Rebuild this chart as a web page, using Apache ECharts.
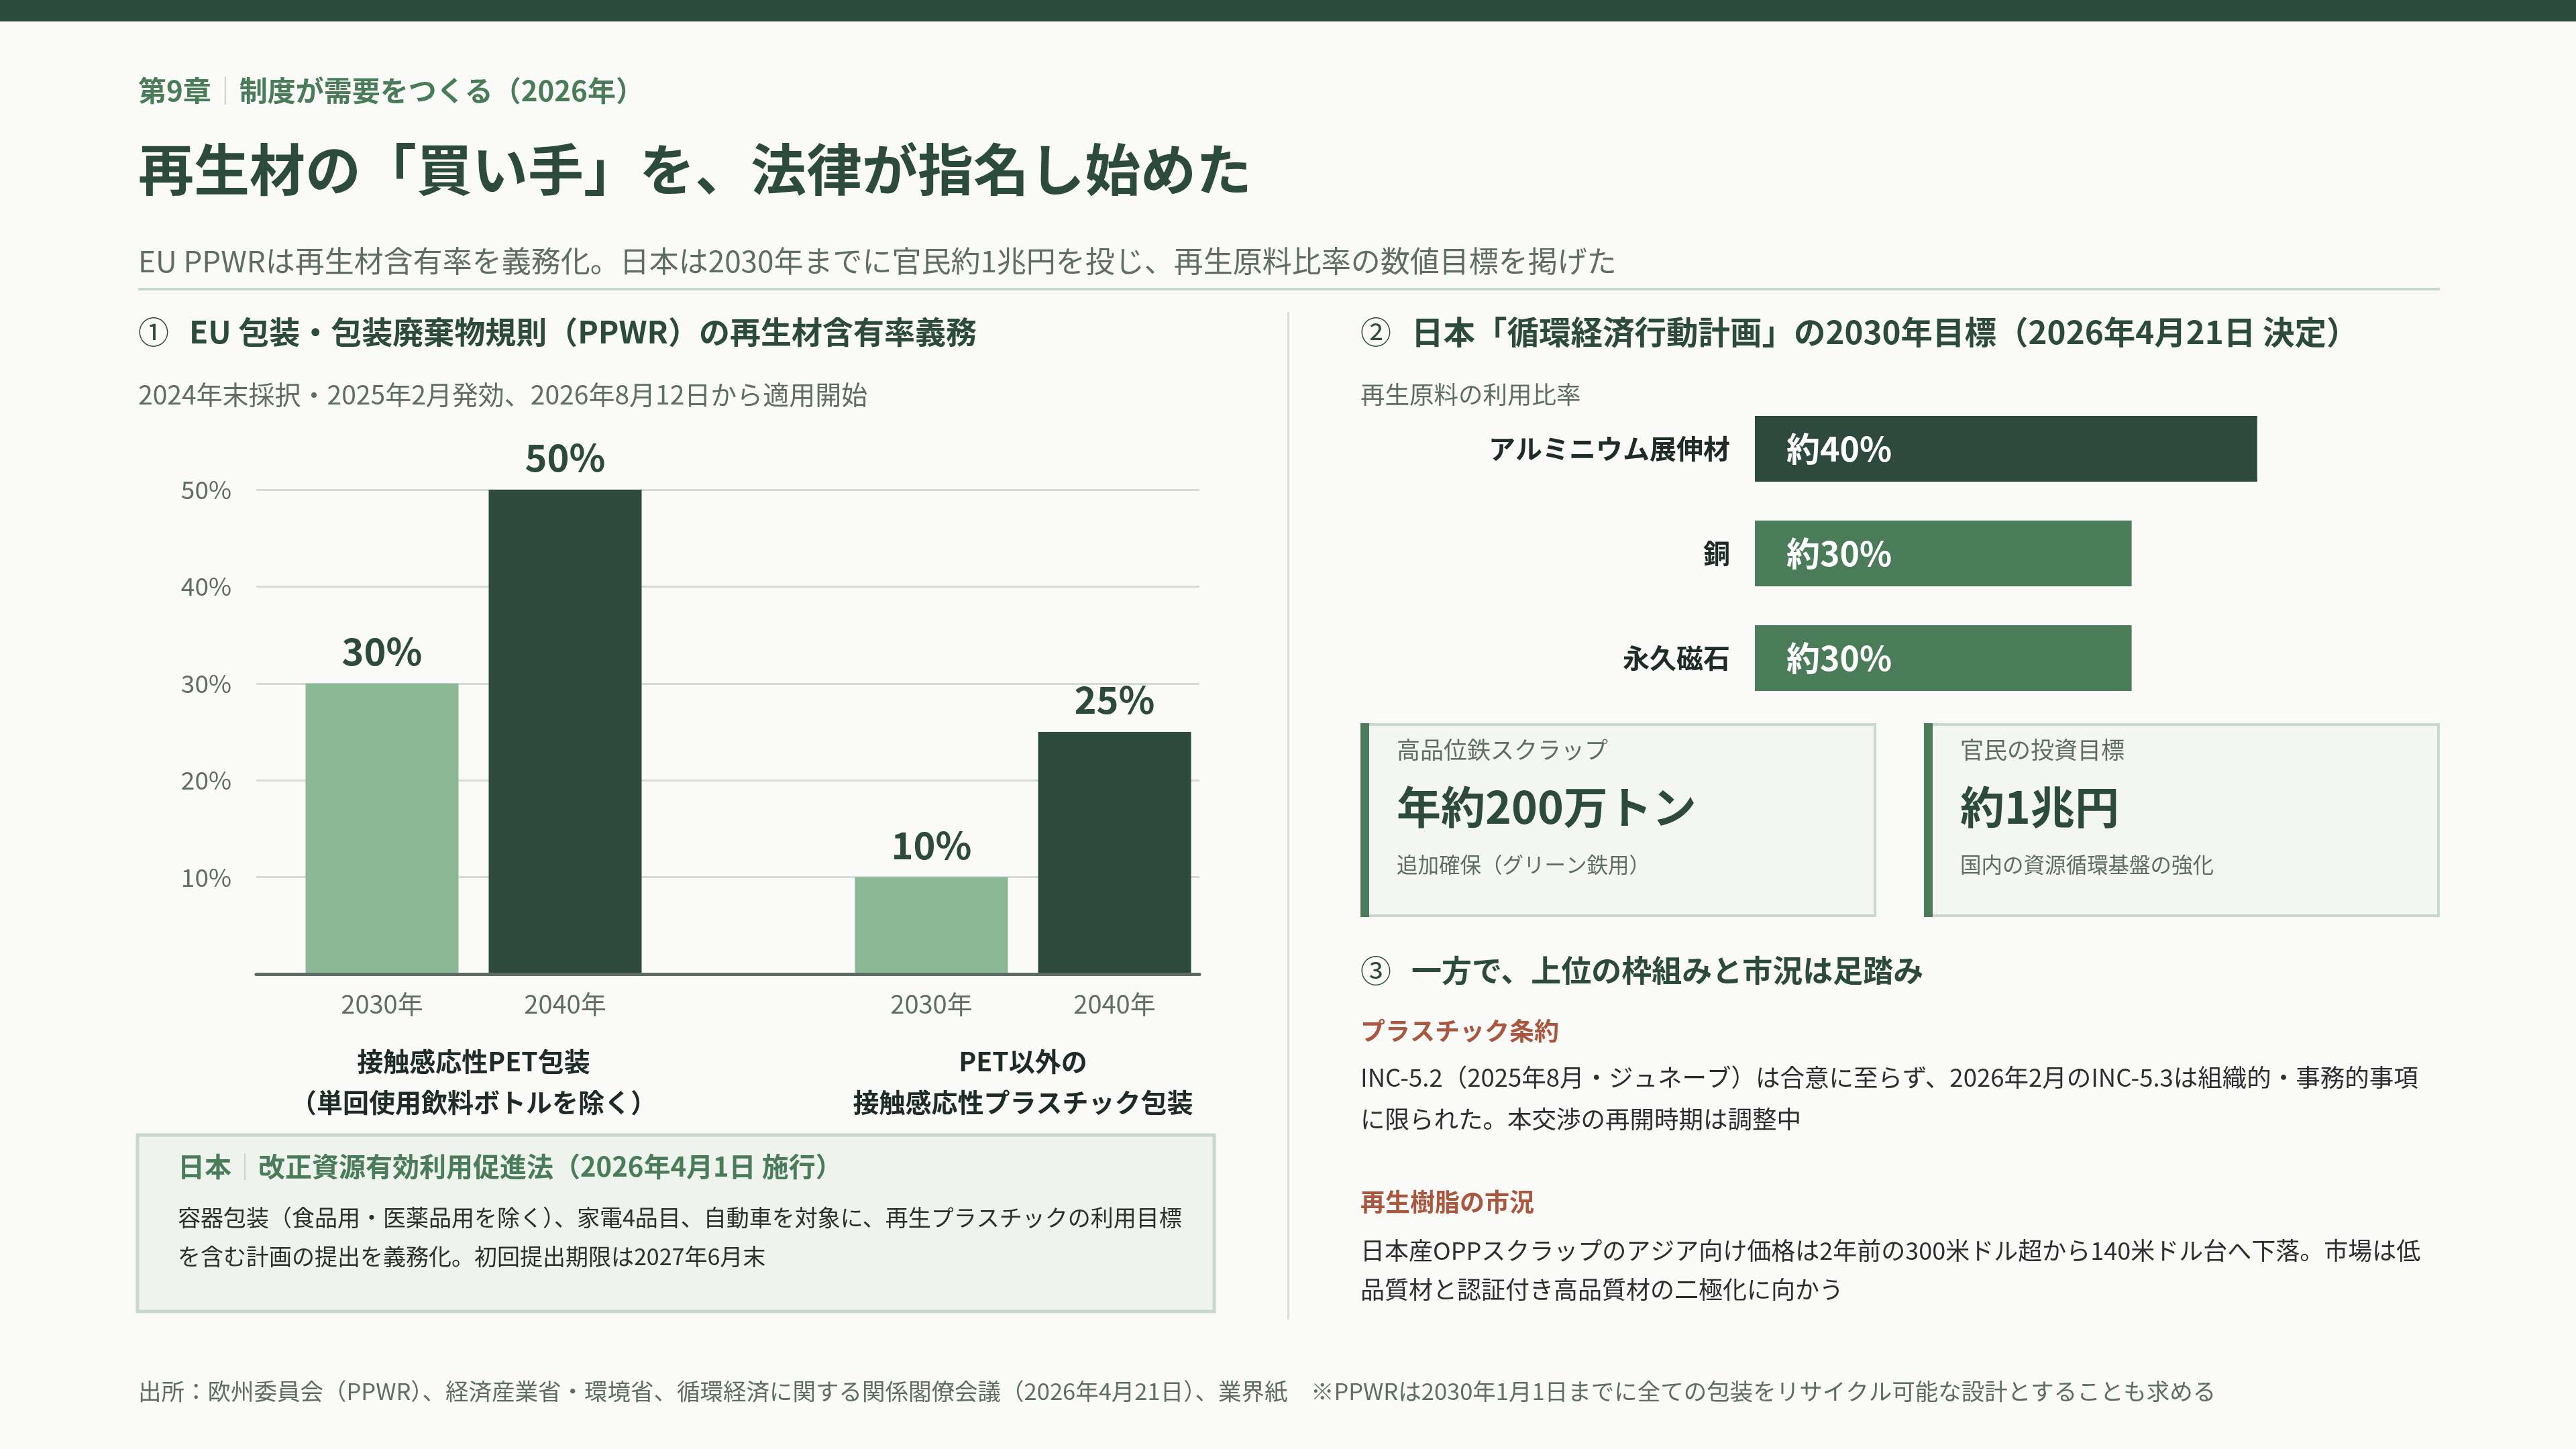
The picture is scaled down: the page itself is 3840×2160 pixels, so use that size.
<!DOCTYPE html>
<html><head><meta charset="utf-8">
<script src="https://cdn.jsdelivr.net/npm/echarts@6.0.0/dist/echarts.min.js"></script>
<style>html,body{margin:0;padding:0;background:#fafaf8;}#c{width:3840px;height:2160px;}</style>
</head><body><div id="c"></div>
<script>
// ---- data ----
const euYears = ['2030年', '2040年'];
const euGroupLine1 = ['接触感応性PET包装', 'PET以外の'];
const euGroupLine2 = ['（単回使用飲料ボトルを除く）', '接触感応性プラスチック包装'];
const eu2030 = [30, 10];
const eu2040 = [50, 25];
const euAxisMin = 0, euAxisMax = 50, euAxisStep = 10;
const jpMaterials = ['アルミニウム展伸材', '銅', '永久磁石'];
const jpTargets = [40, 30, 30];

const FONT = '"Noto Sans CJK JP", "Noto Sans", sans-serif';
const DARK = '#2d4a3e', MID = '#4a7c59', LIGHT = '#8db896', GRAY = '#5f6d66', BODY = '#2e2e2e', RUST = '#a9573f';

// 5-slot category axis: two groups with an empty slot between
const xCats = [euYears[0], euYears[1], '', euYears[0], euYears[1]];
const s2030 = [eu2030[0], '-', '-', eu2030[1], '-'];
const s2040 = ['-', eu2040[0], '-', '-', eu2040[1]];

const chart = echarts.init(document.getElementById('c'));
const labelStyle = {show: true, position: 'top', distance: 20, formatter: p => p.value + '%',
  fontSize: 56, fontWeight: 'bold', color: DARK, fontFamily: FONT};

const option = {
  animation: false,
  backgroundColor: '#fafaf8',
  textStyle: {fontFamily: FONT},
  grid: [
    {left: 382, top: 730, width: 1406, height: 722, outerBoundsMode: 'none'},
    {left: 433, top: 730, width: 1365, height: 722, outerBoundsMode: 'none'},
    {left: 2616, top: 591, width: 936, height: 468, outerBoundsMode: 'none'}
  ],
  xAxis: [
    {gridIndex: 0, type: 'category', data: [''], z: 5,
      axisLine: {show: true, lineStyle: {color: '#5c6b63', width: 5}},
      axisTick: {show: false}, axisLabel: {show: false}, splitLine: {show: false}},
    {gridIndex: 1, type: 'category', data: xCats,
      axisLine: {show: false}, axisTick: {show: false},
      axisLabel: {fontSize: 38, color: GRAY, margin: 26, fontFamily: FONT}},
    {gridIndex: 2, type: 'value', min: 0, max: 50, show: false}
  ],
  yAxis: [
    {gridIndex: 0, type: 'value', min: euAxisMin, max: euAxisMax, interval: euAxisStep,
      axisLine: {show: false}, axisTick: {show: false},
      splitLine: {show: true, lineStyle: {color: '#d3dcd6', width: 3}},
      axisLabel: {fontSize: 37, color: GRAY, margin: 37, fontFamily: FONT,
        formatter: v => v === 0 ? '' : v + '%'}},
    {gridIndex: 1, type: 'value', min: euAxisMin, max: euAxisMax, show: false},
    {gridIndex: 2, type: 'category', data: jpMaterials, inverse: true,
      axisLine: {show: false}, axisTick: {show: false},
      axisLabel: {fontSize: 40, fontWeight: 'bold', color: '#1f2b26', margin: 37, fontFamily: FONT}}
  ],
  series: [
    {type: 'bar', name: euYears[0], xAxisIndex: 1, yAxisIndex: 1, data: s2030, barWidth: 228, barGap: '-100%',
      itemStyle: {color: LIGHT}, label: labelStyle},
    {type: 'bar', name: euYears[1], xAxisIndex: 1, yAxisIndex: 1, data: s2040, barWidth: 228, barGap: '-100%',
      itemStyle: {color: '#2e4a3f'}, label: labelStyle},
    {type: 'bar', xAxisIndex: 2, yAxisIndex: 2, barWidth: 98,
      data: jpTargets.map((v, i) => ({value: v, itemStyle: {color: i === 0 ? '#2e4a3f' : MID}})),
      label: {show: true, position: 'insideLeft', distance: 47, formatter: '約{c}%', color: '#ffffff',
        fontSize: 50, fontWeight: 'bold', fontFamily: FONT}}
  ]
};
chart.setOption(option);

function txt(x, y, text, size, color, weight, align) {
  return {type: 'text', x: x, y: y, z: 10, silent: true,
    style: {text: text, fontSize: size, fontWeight: weight || 'normal', fill: color, fontFamily: FONT,
      textAlign: align || 'left', align: align || 'left', textVerticalAlign: 'middle', verticalAlign: 'middle'}};
}
function rich(x, y, a, b, size, color) {
  return {type: 'text', x: x, y: y, z: 10, silent: true,
    style: {text: '{a|' + a + '}{s|｜}{a|' + b + '}', fontFamily: FONT, textVerticalAlign: 'middle', verticalAlign: 'middle',
      rich: {a: {fontSize: size, fontWeight: 'bold', fill: color, color: color, fontFamily: FONT},
             s: {fontSize: size, fontWeight: 'normal', fill: '#c3cec7', color: '#c3cec7', fontFamily: FONT}}}};
}
function rect(x, y, w, h, fill, stroke, lw) {
  return {type: 'rect', z: 1, silent: true, shape: {x: x, y: y, width: w, height: h},
    style: {fill: fill, stroke: stroke || null, lineWidth: lw || 0}};
}

const px = i => chart.convertToPixel({xAxisIndex: 1}, i);
const g1 = (px(0) + px(1)) / 2, g2 = (px(3) + px(4)) / 2;

const graphics = [
  rect(0, 0, 3840, 32, DARK),
  rich(206, 135, '第9章', '制度が需要をつくる（2026年）', 42, MID),
  txt(206, 252, '再生材の「買い手」を、法律が指名し始めた', 83, DARK, 'bold'),
  txt(206, 389, 'EU PPWRは再生材含有率を義務化。日本は2030年までに官民約1兆円を投じ、再生原料比率の数値目標を掲げた', 44, GRAY),
  rect(206, 429, 3431, 4, '#c8d6cc'),
  rect(1919, 465, 3, 1502, '#d6ded9'),
  // section 1
  txt(206, 495, '①', 46, DARK, 'normal'),
  txt(282, 495, 'EU 包装・包装廃棄物規則（PPWR）の再生材含有率義務', 46, DARK, 'bold'),
  txt(206, 588, '2024年末採択・2025年2月発効、2026年8月12日から適用開始', 39, GRAY),
  txt(g1, 1582, euGroupLine1[0], 39, '#1f2b26', 'bold', 'center'),
  txt(g1, 1643, euGroupLine2[0], 39, '#1f2b26', 'bold', 'center'),
  txt(g2, 1582, euGroupLine1[1], 39, '#1f2b26', 'bold', 'center'),
  txt(g2, 1643, euGroupLine2[1], 39, '#1f2b26', 'bold', 'center'),
  rect(205, 1692, 1605, 263, '#eef3ee', '#c8d8cc', 5),
  rich(265, 1739, '日本', '改正資源有効利用促進法（2026年4月1日 施行）', 40, MID),
  txt(265, 1815, '容器包装（食品用・医薬品用を除く）、家電4品目、自動車を対象に、再生プラスチックの利用目標', 34, BODY),
  txt(265, 1873, 'を含む計画の提出を義務化。初回提出期限は2027年6月末', 34, BODY),
  txt(206, 2074, '出所：欧州委員会（PPWR）、経済産業省・環境省、循環経済に関する関係閣僚会議（2026年4月21日）、業界紙　※PPWRは2030年1月1日までに全ての包装をリサイクル可能な設計とすることも求める', 34.5, GRAY),
  // section 2
  txt(2028, 495, '②', 46, DARK, 'normal'),
  txt(2104, 495, '日本「循環経済行動計画」の2030年目標（2026年4月21日 決定）', 47.5, DARK, 'bold'),
  txt(2028, 588, '再生原料の利用比率', 36.5, GRAY),
  rect(2030, 1080, 765, 285, '#f3f6f3', '#c8d8cc', 4),
  rect(2028, 1078, 13, 289, MID),
  txt(2082, 1118, '高品位鉄スクラップ', 35, GRAY),
  txt(2082, 1203, '年約200万トン', 66, DARK, 'bold'),
  txt(2082, 1289, '追加確保（グリーン鉄用）', 31.5, GRAY),
  rect(2870, 1080, 765, 285, '#f3f6f3', '#c8d8cc', 4),
  rect(2868, 1078, 13, 289, MID),
  txt(2922, 1118, '官民の投資目標', 35, GRAY),
  txt(2922, 1203, '約1兆円', 66, DARK, 'bold'),
  txt(2922, 1289, '国内の資源循環基盤の強化', 31.5, GRAY),
  // section 3
  txt(2028, 1447, '③', 46, DARK, 'normal'),
  txt(2104, 1447, '一方で、上位の枠組みと市況は足踏み', 45, DARK, 'bold'),
  txt(2028, 1537, 'プラスチック条約', 37, RUST, 'bold'),
  txt(2028, 1606, 'INC-5.2（2025年8月・ジュネーブ）は合意に至らず、2026年2月のINC-5.3は組織的・事務的事項', 36.5, BODY),
  txt(2028, 1668, 'に限られた。本交渉の再開時期は調整中', 36.5, BODY),
  txt(2028, 1792, '再生樹脂の市況', 37, RUST, 'bold'),
  txt(2028, 1864, '日本産OPPスクラップのアジア向け価格は2年前の300米ドル超から140米ドル台へ下落。市場は低', 36, BODY),
  txt(2028, 1922, '品質材と認証付き高品質材の二極化に向かう', 36, BODY)
];
chart.setOption({graphic: graphics});
</script></body></html>
